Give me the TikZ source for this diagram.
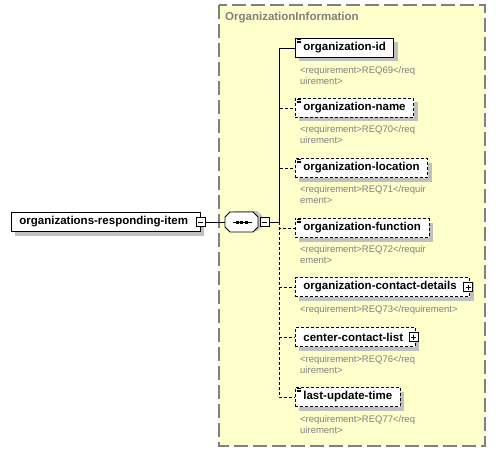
\documentclass[tikz,border=0pt]{standalone}
\usepackage{fontspec}
\setmainfont{Liberation Sans}
\usetikzlibrary{shadows}

\definecolor{panelyellow}{RGB}{255,255,204}
\definecolor{panelgray}{RGB}{128,128,128}
\definecolor{shadegray}{RGB}{192,192,192}

\tikzset{
    element/.style={draw, fill=white, line width=0.8pt, minimum height=19pt,
        inner xsep=8pt, inner ysep=0pt, anchor=west,
        font=\bfseries\fontsize{11.5}{13}\selectfont,
        drop shadow={shadow xshift=4pt, shadow yshift=-4pt, fill=shadegray, opacity=1}},
    optional/.style={dash pattern=on 3pt off 2pt},
    note/.style={anchor=north west, inner sep=0pt, align=left, text=panelgray,
        font=\fontsize{9.5}{11}\selectfont},
    link/.style={line width=0.8pt},
    minusbox/.style={draw, fill=white, line width=0.8pt, minimum size=9pt, inner sep=0pt,
        path picture={\draw[line width=0.8pt]
            ([xshift=2pt]path picture bounding box.west) -- ([xshift=-2pt]path picture bounding box.east);}},
    plusbox/.style={draw, fill=white, line width=0.8pt, minimum size=9pt, inner sep=0pt,
        path picture={\draw[line width=0.8pt]
            ([xshift=2pt]path picture bounding box.west) -- ([xshift=-2pt]path picture bounding box.east)
            ([yshift=-2pt]path picture bounding box.north) -- ([yshift=2pt]path picture bounding box.south);}},
}

% small lines in the corner of a simple-typed element
\newcommand\typemark[1]{%
    \foreach \dy in {1.5,3,4.5}
        \draw[line width=0.7pt] ([shift={(1.5,\dy)}]#1.north west) -- ([shift={(6,\dy)}]#1.north west);%
}

\begin{document}
\begin{tikzpicture}[x=1pt,y=-1pt]
    \useasboundingbox (0,0) rectangle (496,452);

    % Group panel
    \draw[panelgray, line width=1.2pt, dash pattern=on 14pt off 5pt, fill=panelyellow]
        (219,5) rectangle (485,446);
    \node[anchor=west, inner sep=0pt, text=panelgray, font=\bfseries\fontsize{11.5}{13}\selectfont]
        (title) at (225,18) {OrganizationInformation};

    % Root element
    \node[element] (root) at (11,222) {organizations-responding-item\kern4pt};
    \node[minusbox] (rootminus) at (root.east) {};

    % Sequence compositor
    \node[minimum width=33pt, minimum height=20pt, inner sep=0pt] (seq) at (241.5,222) {};
    \begin{scope}[shift={(seq.center)}]
        \fill[shadegray] (-12.5,-6) -- (-7.5,-11) -- (15.5,-11) -- (20.5,-6)
            -- (20.5,4) -- (15.5,9) -- (-7.5,9) -- (-12.5,4) -- cycle;
        \draw[line width=0.8pt, fill=white] (-16.5,-5) -- (-11.5,-10) -- (11.5,-10) -- (16.5,-5)
            -- (16.5,5) -- (11.5,10) -- (-11.5,10) -- (-16.5,5) -- cycle;
        \draw[link] (-9,0) -- (10,0);
        \foreach \dx in {-4.5,0,4.5}
            \fill (\dx-1.5,-1.5) rectangle (\dx+1.5,1.5);
    \end{scope}
    \node[minusbox] (seqminus) at ([xshift=6.5pt]seq.east) {};
    \coordinate (spine) at (279,222);

    % Child elements
    \node[element] (orgid) at (295,48) {organization-id};
    \typemark{orgid}
    \node[note] (orgidnote) at (300,66) {<requirement>REQ69</req\\uirement>};

    \node[element, optional] (orgname) at (295,108) {organization-name};
    \typemark{orgname}
    \node[note] (orgnamenote) at (300,125) {<requirement>REQ70</req\\uirement>};

    \node[element, optional] (orglocation) at (295,168) {organization-location};
    \typemark{orglocation}
    \node[note] (orglocationnote) at (300,185) {<requirement>REQ71</requir\\ement>};

    \node[element, optional] (orgfunction) at (295,228) {organization-function};
    \typemark{orgfunction}
    \node[note] (orgfunctionnote) at (300,245) {<requirement>REQ72</requir\\ement>};

    \node[element, optional] (contactdetails) at (295,287) {organization-contact-details\kern5pt};
    \node[plusbox] (contactdetailsplus) at ([xshift=-2pt]contactdetails.east) {};
    \node[note] (contactdetailsnote) at (300,305) {<requirement>REQ73</requirement>};

    \node[element, optional] (centerlist) at (295,337) {center-contact-list\kern4pt};
    \node[plusbox] (centerlistplus) at ([xshift=-2pt]centerlist.east) {};
    \node[note] (centerlistnote) at (300,355) {<requirement>REQ76</req\\uirement>};

    \node[element, optional] (updatetime) at (295,397) {last-update-time};
    \typemark{updatetime}
    \node[note] (updatetimenote) at (300,415) {<requirement>REQ77</req\\uirement>};

    % Connectors
    \draw[link] (rootminus) -- (seq);
    \draw[link] (seqminus) -- (spine);
    \draw[link, optional] (spine) |- (orgname.west);
    \draw[link, optional] (spine) |- (orglocation.west);
    \draw[link, optional] (spine) |- (orgfunction.west);
    \draw[link, optional] (spine) |- (contactdetails.west);
    \draw[link, optional] (spine) |- (centerlist.west);
    \draw[link, optional] (spine) |- (updatetime.west);
    \draw[link] (spine) |- (orgid.west);
\end{tikzpicture}
\end{document}
